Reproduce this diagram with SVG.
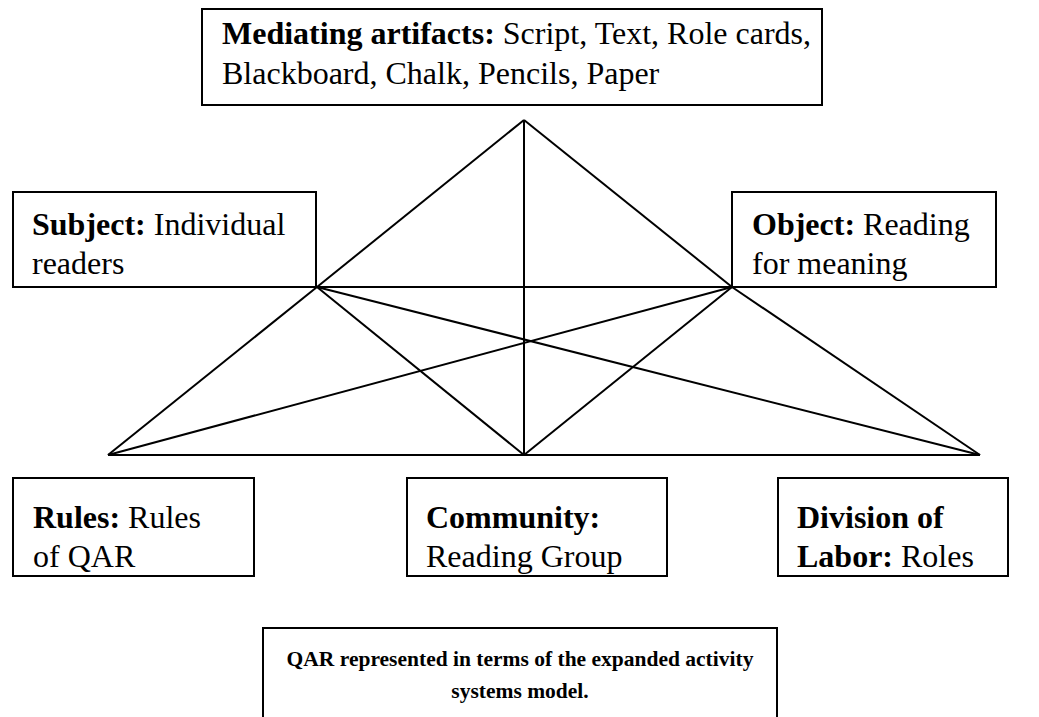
<svg xmlns="http://www.w3.org/2000/svg" width="1039" height="717" viewBox="0 0 1039 717">
<style>
.box{fill:#fff;stroke:#000;stroke-width:2}
.ln{stroke:#000;stroke-width:2;fill:none}
text{font-family:"Liberation Serif","Times New Roman",serif;font-size:32px;fill:#000}
.b{font-weight:bold}
.cap{font-size:21.5px;font-weight:bold}
</style>
<rect width="1039" height="717" fill="#fff"/>
<g id="connectors">
<line class="ln" x1="524" y1="120" x2="317" y2="287"/>
<line class="ln" x1="524" y1="120" x2="732" y2="287"/>
<line class="ln" x1="524" y1="120" x2="524" y2="455"/>
<line class="ln" x1="317" y1="287" x2="732" y2="287"/>
<line class="ln" x1="317" y1="287" x2="108" y2="455"/>
<line class="ln" x1="317" y1="287" x2="524" y2="455"/>
<line class="ln" x1="317" y1="287" x2="980" y2="455"/>
<line class="ln" x1="732" y1="287" x2="980" y2="455"/>
<line class="ln" x1="732" y1="287" x2="524" y2="455"/>
<line class="ln" x1="732" y1="287" x2="108" y2="455"/>
<line class="ln" x1="108" y1="455" x2="980" y2="455"/>
</g>
<g id="mediating">
<rect class="box" x="202" y="9" width="620" height="96"/>
<text x="222" y="44"><tspan class="b">Mediating artifacts:</tspan> Script, Text, Role cards,</text>
<text x="222" y="84">Blackboard, Chalk, Pencils, Paper</text>
</g>
<g id="subject">
<rect class="box" x="13" y="192" width="303" height="95"/>
<text x="32" y="235"><tspan class="b">Subject:</tspan> Individual</text>
<text x="32" y="274">readers</text>
</g>
<g id="object">
<rect class="box" x="732" y="192" width="264" height="95"/>
<text x="752" y="235"><tspan class="b">Object:</tspan> Reading</text>
<text x="752" y="274">for meaning</text>
</g>
<g id="rules">
<rect class="box" x="13" y="478" width="241" height="98"/>
<text x="33" y="528"><tspan class="b">Rules:</tspan> Rules</text>
<text x="33" y="567">of QAR</text>
</g>
<g id="community">
<rect class="box" x="407" y="478" width="260" height="98"/>
<text x="426" y="528" class="b">Community:</text>
<text x="426" y="567">Reading Group</text>
</g>
<g id="division">
<rect class="box" x="778" y="478" width="230" height="98"/>
<text x="797" y="528" class="b">Division of</text>
<text x="797" y="567"><tspan class="b">Labor:</tspan> Roles</text>
</g>
<g id="caption">
<path class="ln" d="M263,720 V628 H777 V720"/>
<text class="cap" x="520" y="666" text-anchor="middle">QAR represented in terms of the expanded activity</text>
<text class="cap" x="520" y="698" text-anchor="middle">systems model.</text>
</g>
</svg>
